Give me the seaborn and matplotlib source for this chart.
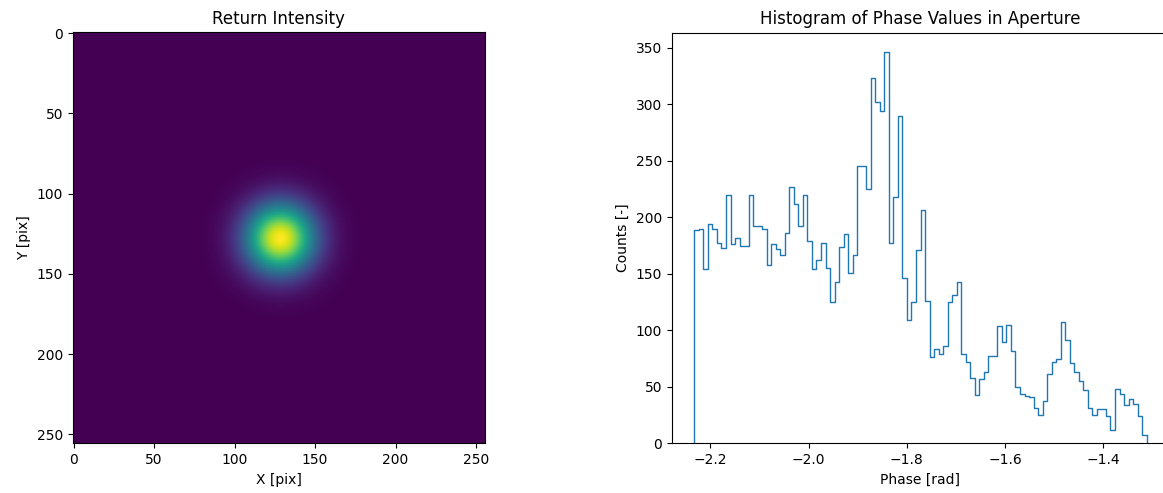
import numpy as np
import pandas as pd
import matplotlib
matplotlib.use("Agg")
import matplotlib.pyplot as plt
import seaborn as sns

# ---- Left panel: return intensity (Gaussian spot) ----
image_size = 256
spot_center_x = 128
spot_center_y = 128
spot_sigma = 15.0

# ---- Right panel: histogram of phase values ----
phase_min = -2.2325
phase_max = -1.3117
counts = [189, 190, 154, 194, 190, 177, 173, 220, 176, 182,
          175, 175, 220, 192, 192, 190, 158, 176, 172, 167,
          186, 227, 212, 192, 220, 179, 154, 162, 177, 155,
          125, 143, 174, 185, 151, 167, 245, 245, 225, 323,
          302, 294, 346, 177, 218, 290, 146, 109, 125, 171,
          206, 126, 76, 83, 79, 86, 125, 131, 143, 79,
          72, 58, 43, 57, 63, 77, 77, 104, 90, 105,
          82, 50, 44, 42, 41, 31, 25, 37, 61, 72,
          75, 107, 91, 71, 63, 55, 47, 31, 25, 30,
          30, 24, 12, 48, 44, 34, 39, 35, 24, 7]

n_bins = len(counts)
edges = np.linspace(phase_min, phase_max, n_bins + 1)
centers = 0.5 * (edges[:-1] + edges[1:])
hist_df = pd.DataFrame({"phase": centers, "count": counts})

yy, xx = np.mgrid[0:image_size, 0:image_size]
intensity = np.exp(-((xx - spot_center_x) ** 2 + (yy - spot_center_y) ** 2) / (2 * spot_sigma ** 2))

W, H = 1163, 493
fig = plt.figure(figsize=(W / 100, H / 100), dpi=100)

ax1 = fig.add_axes([72.7 / W, (H - 443.3) / H, 412.3 / W, 411.0 / H])
ax1.imshow(intensity, cmap="viridis", aspect="auto")
ax1.set_title("Return Intensity", fontsize=12)
ax1.set_xlabel("X [pix]")
ax1.set_ylabel("Y [pix]")
ax1.set_xticks([0, 50, 100, 150, 200, 250])
ax1.set_yticks([0, 50, 100, 150, 200, 250])

ax2 = fig.add_axes([671.7 / W, (H - 443.3) / H, (1169.3 - 671.7) / W, (443.3 - 32.7) / H])
sns.histplot(data=hist_df, x="phase", weights="count", bins=n_bins,
             binrange=(phase_min, phase_max),
             element="step", fill=False, color="#1f77b4", linewidth=1.0, ax=ax2)
ax2.vlines([edges[0], edges[-1]], 0, [counts[0], counts[-1]],
           color="#1f77b4", linewidth=1.0)
ax2.set_xlim(phase_min - 0.05 * (phase_max - phase_min), phase_max + 0.05 * (phase_max - phase_min))
ax2.set_ylim(0, max(counts) * 1.05)
ax2.set_title("Histogram of Phase Values in Aperture", fontsize=12)
ax2.set_xlabel("Phase [rad]")
ax2.set_ylabel("Counts [-]")

fig.savefig("out.png", dpi=100)
